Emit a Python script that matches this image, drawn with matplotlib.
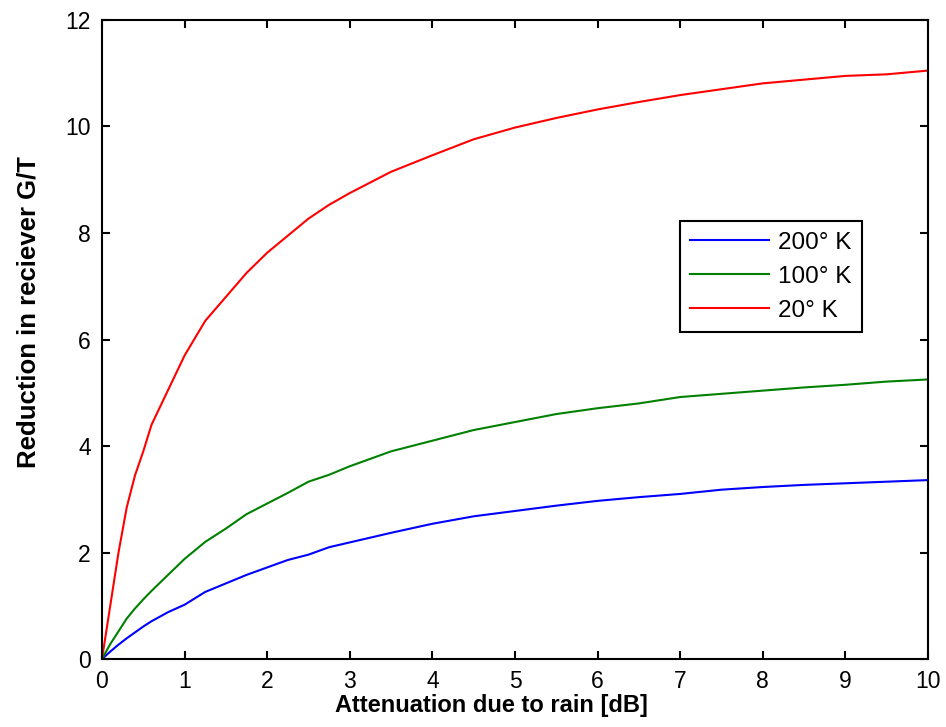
import numpy as np
import matplotlib
matplotlib.use("Agg")
import matplotlib.pyplot as plt

plt.rcParams['font.family'] = ['Liberation Sans', 'DejaVu Sans']

# attenuation (dB) and reduction in G/T (dB)
atten = [0, 0.1, 0.2, 0.3, 0.4, 0.5, 0.6, 0.8, 1.0, 1.25, 1.5, 1.75, 2.0, 2.25, 2.5,
         2.75, 3.0, 3.5, 4.0, 4.5, 5.0, 5.5, 6.0, 6.5, 7.0, 7.5, 8.0, 8.5, 9.0, 9.5, 10.0]

gt_200K = [0, 0.14, 0.27, 0.39, 0.50, 0.61, 0.71, 0.88, 1.02, 1.26, 1.42, 1.58, 1.72, 1.86, 1.96,
           2.10, 2.19, 2.37, 2.54, 2.68, 2.78, 2.88, 2.97, 3.04, 3.10, 3.18, 3.23, 3.27, 3.30, 3.33, 3.36]
gt_100K = [0, 0.28, 0.52, 0.76, 0.95, 1.12, 1.28, 1.58, 1.88, 2.20, 2.45, 2.72, 2.92, 3.12, 3.33,
           3.46, 3.62, 3.90, 4.10, 4.30, 4.45, 4.60, 4.71, 4.80, 4.92, 4.98, 5.04, 5.10, 5.15, 5.21, 5.25]
gt_20K = [0, 1.00, 2.00, 2.85, 3.45, 3.90, 4.40, 5.05, 5.70, 6.35, 6.80, 7.25, 7.63, 7.95, 8.27,
          8.53, 8.75, 9.15, 9.46, 9.76, 9.98, 10.16, 10.32, 10.46, 10.59, 10.70, 10.81, 10.88, 10.95, 10.98, 11.05]

labels = ['200° K', '100° K', '20° K']

fig = plt.figure(figsize=(9.46, 7.27), dpi=100)
ax = fig.add_axes([0.1078, 0.0935, 0.8732, 0.879])

ax.plot(atten, gt_200K, color=(0, 0, 1), lw=1.5, label=labels[0])
ax.plot(atten, gt_100K, color=(0, 0.5, 0), lw=1.5, label=labels[1])
ax.plot(atten, gt_20K, color=(1, 0, 0), lw=1.5, label=labels[2])

ax.set_xlim(0, 10)
ax.set_ylim(0, 12)
ax.set_xticks(np.arange(0, 11, 1))
ax.set_yticks(np.arange(0, 13, 2))
ax.tick_params(direction='in', length=6, width=1.5, top=True, right=True,
               labelsize=16.5, pad=8)
for s in ax.spines.values():
    s.set_linewidth(1.5)

ax.set_xlabel('Attenuation due to rain [dB]', fontsize=17, fontweight='bold')
ax.set_ylabel('Reduction in reciever G/T', fontsize=18.5, fontweight='bold')
ax.xaxis.set_label_coords(0.471, -0.054)
ax.yaxis.set_label_coords(-0.074, 0.543)

leg = ax.legend(loc='upper left', bbox_to_anchor=(0.70, 0.685), fontsize=17.5,
                fancybox=False, edgecolor='black', framealpha=1,
                handlelength=3.25, handletextpad=0.37, borderaxespad=0,
                labelspacing=0.5, borderpad=0.42)
leg.get_frame().set_linewidth(1.5)

fig.savefig('out.png', dpi=100)
